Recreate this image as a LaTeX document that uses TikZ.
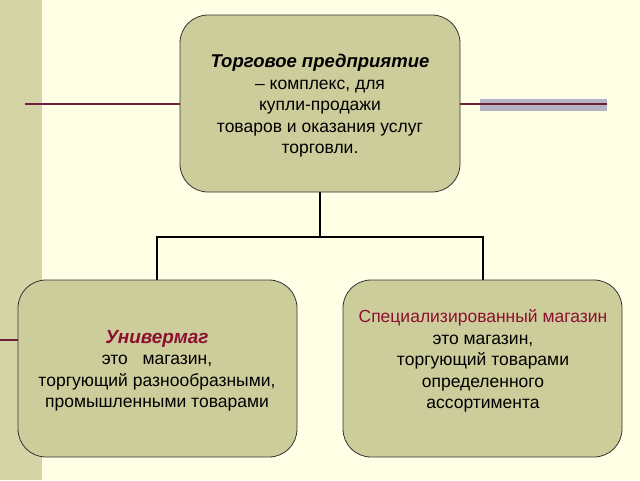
\documentclass[tikz,border=0pt]{standalone}
\usepackage{fontspec}
\setmainfont{Liberation Sans}
\begin{document}
\begin{tikzpicture}[x=1pt,y=-1pt,
  box/.style={draw=black!80, line width=0.8pt, fill=boxc, rounded corners=28pt},
  txt/.style={align=center, font=\fontsize{17.5}{21.5}\selectfont},
  conn/.style={line width=1.8pt, black}]
\definecolor{bg}{HTML}{FFFFE6}
\definecolor{stripe}{HTML}{D4D4A6}
\definecolor{boxc}{HTML}{CDCD9C}
\definecolor{dred}{HTML}{6E1F3A}
\definecolor{barc}{HTML}{B4B4C4}
\definecolor{redt}{HTML}{8B1030}
\fill[bg] (0,0) rectangle (640,480);
\useasboundingbox (0,0) rectangle (640,480);
\fill[stripe] (0,0) rectangle (42,480);
\draw[dred, line width=1.2pt] (25,104) -- (180,104);
\fill[barc] (480,99) rectangle (607,111);
\draw[dred, line width=1.2pt] (460,104) -- (607,104);
\draw[dred, line width=2pt] (0,340) -- (18,340);
\draw[box] (180,15) rectangle (460,192);
\draw[box] (18,280) rectangle (297,457);
\draw[box] (343,280) rectangle (622,457);
\node[txt] (top) at (320,106) {{\fontsize{18.5}{21.5}\selectfont\textit{\textbf{Торговое предприятие}}}\\– комплекс, для\\купли-продажи\\товаров и оказания услуг\\торговли.};
\node[txt] (left) at (157,371) {{\fontsize{19}{21.5}\selectfont\textcolor{redt}{\textit{\textbf{Универмаг}}}}\\это\ \ \ магазин,\\торгующий разнообразными,\\промышленными товарами};
\node[txt] (right) at (483,361) {\textcolor{redt}{Специализированный магазин}\\это магазин,\\торгующий товарами\\определенного\\ассортимента};
\coordinate (t) at (320,192);
\coordinate (m) at (320,237);
\coordinate (l) at (157,237);
\coordinate (r) at (483,237);
\coordinate (lb) at (157,280);
\coordinate (rb) at (483,280);
\draw[conn] (t) -- (m);
\draw[conn] (lb) -- (l) -- (r) -- (rb);
\end{tikzpicture}
\end{document}
